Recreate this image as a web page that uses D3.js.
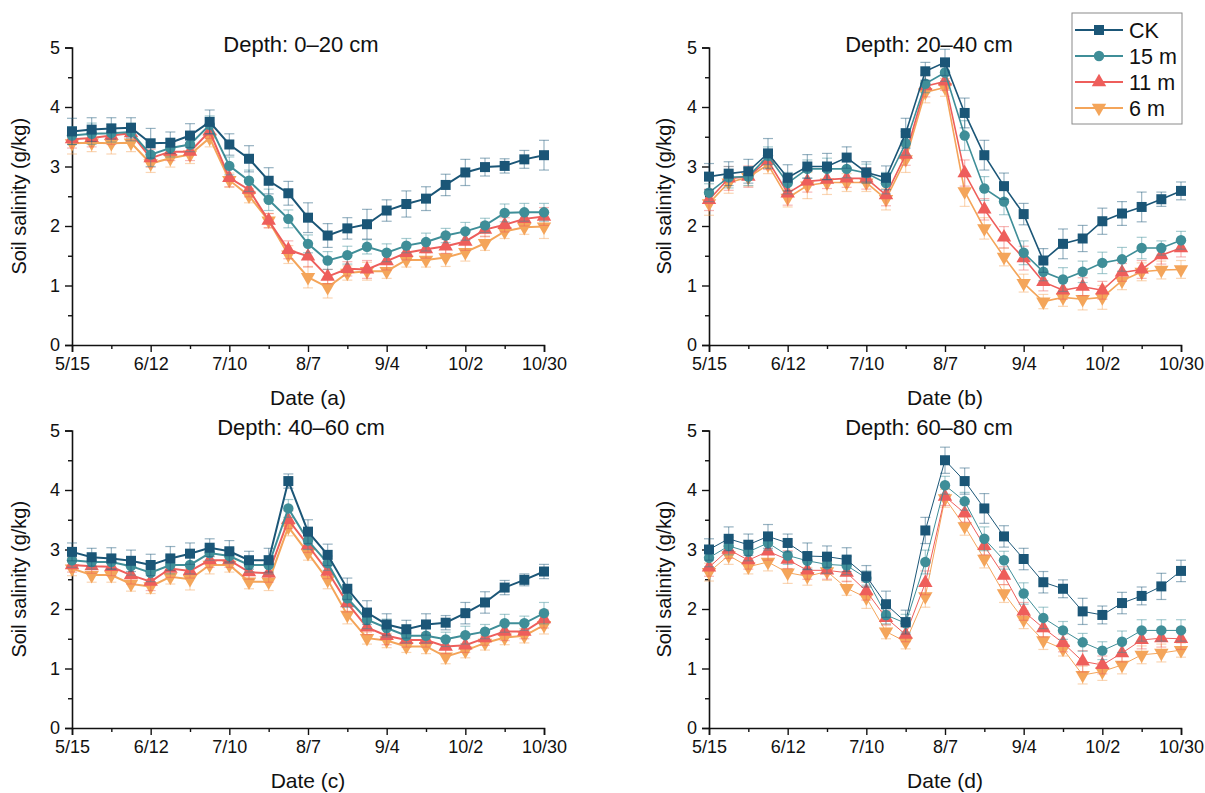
<!DOCTYPE html>
<html lang="en">
<head>
<meta charset="UTF-8">
<title>Soil salinity by depth</title>
<script src="https://d3js.org/d3.v7.min.js"></script>
<style>
  body { margin: 0; background: #fff; }
  svg { font-family: "Liberation Sans", Arial, sans-serif; }
</style>
</head>
<body>
<svg width="1205" height="793"></svg>
<script>
// sampling dates (weekly)
const dates = ['5/15','5/22','5/29','6/5','6/12','6/19','6/26','7/3','7/10','7/17','7/24','7/31',
  '8/7','8/14','8/21','8/28','9/4','9/11','9/18','9/25','10/2','10/9','10/16','10/23','10/30'];
const xTickLabels = ['5/15','6/12','7/10','8/7','9/4','10/2','10/30'];
const xMinorLabels = ['5/29','6/26','7/24','8/21','9/18','10/16'];
const yTicks = [0, 1, 2, 3, 4, 5];
const seriesNames = ['CK', '15 m', '11 m', '6 m'];
const panelTitles = ['Depth: 0\u201320 cm', 'Depth: 20\u201340 cm', 'Depth: 40\u201360 cm', 'Depth: 60\u201380 cm'];
const panelLetters = ['a', 'b', 'c', 'd'];

// Depth 0-20 cm
const a_CK  = [3.59,3.62,3.64,3.65,3.39,3.40,3.52,3.75,3.37,3.13,2.76,2.55,2.14,1.84,1.96,2.03,2.26,2.37,2.46,2.69,2.90,2.99,3.01,3.12,3.19];
const a_15  = [3.52,3.55,3.56,3.58,3.20,3.31,3.37,3.70,3.01,2.76,2.44,2.12,1.70,1.42,1.51,1.65,1.55,1.67,1.73,1.84,1.91,2.01,2.22,2.23,2.23];
const a_11  = [3.46,3.48,3.52,3.56,3.14,3.25,3.25,3.59,2.81,2.61,2.09,1.60,1.49,1.15,1.28,1.27,1.41,1.55,1.61,1.66,1.74,1.94,2.02,2.12,2.16];
const a_6   = [3.39,3.40,3.39,3.40,3.05,3.14,3.20,3.48,2.77,2.51,2.09,1.52,1.14,0.97,1.21,1.24,1.24,1.43,1.43,1.47,1.56,1.71,1.91,1.98,1.99];
const a_CKe = [0.22,0.20,0.18,0.17,0.25,0.18,0.20,0.20,0.18,0.22,0.22,0.20,0.25,0.20,0.18,0.25,0.18,0.22,0.20,0.18,0.22,0.15,0.12,0.15,0.25];
const a_15e = [0.15,0.18,0.15,0.15,0.20,0.15,0.12,0.15,0.15,0.18,0.18,0.15,0.15,0.15,0.15,0.12,0.15,0.12,0.15,0.12,0.15,0.12,0.15,0.15,0.15];
const a_11e = [0.15,0.15,0.15,0.12,0.15,0.15,0.15,0.12,0.15,0.12,0.12,0.15,0.18,0.12,0.12,0.15,0.15,0.12,0.15,0.12,0.15,0.12,0.12,0.12,0.15];
const a_6e  = [0.18,0.15,0.18,0.15,0.15,0.15,0.15,0.15,0.12,0.12,0.12,0.15,0.18,0.18,0.12,0.15,0.12,0.12,0.12,0.15,0.15,0.12,0.12,0.12,0.20];

// Depth 20-40 cm
const b_CK  = [2.83,2.88,2.92,3.22,2.81,3.00,3.00,3.15,2.90,2.81,3.56,4.60,4.75,3.90,3.19,2.67,2.20,1.42,1.70,1.79,2.08,2.21,2.32,2.45,2.59];
const b_15  = [2.56,2.82,2.83,3.18,2.72,2.96,2.96,2.96,2.89,2.72,3.39,4.39,4.58,3.52,2.63,2.41,1.55,1.23,1.10,1.23,1.38,1.44,1.63,1.63,1.76];
const b_11  = [2.44,2.80,2.83,3.10,2.55,2.75,2.78,2.80,2.80,2.52,3.20,4.35,4.43,2.89,2.28,1.81,1.46,1.06,0.92,0.98,0.92,1.22,1.27,1.51,1.63];
const b_6   = [2.38,2.73,2.82,3.03,2.47,2.68,2.73,2.73,2.73,2.45,3.12,4.25,4.33,2.58,1.96,1.48,1.04,0.73,0.80,0.77,0.80,1.08,1.23,1.26,1.27];
const b_CKe = [0.22,0.20,0.20,0.25,0.22,0.20,0.22,0.18,0.18,0.20,0.25,0.15,0.22,0.25,0.25,0.22,0.18,0.20,0.25,0.22,0.22,0.20,0.25,0.12,0.15];
const b_15e = [0.15,0.18,0.15,0.15,0.18,0.15,0.18,0.15,0.15,0.18,0.20,0.15,0.15,0.25,0.20,0.22,0.20,0.15,0.20,0.18,0.18,0.20,0.18,0.12,0.15];
const b_11e = [0.18,0.20,0.18,0.15,0.20,0.18,0.15,0.15,0.18,0.18,0.18,0.18,0.15,0.22,0.18,0.18,0.20,0.15,0.15,0.15,0.15,0.15,0.15,0.15,0.15];
const b_6e  = [0.20,0.18,0.15,0.15,0.15,0.22,0.20,0.15,0.15,0.18,0.22,0.18,0.15,0.25,0.18,0.15,0.15,0.12,0.15,0.18,0.20,0.15,0.15,0.15,0.15];

// Depth 40-60 cm
const c_CK  = [2.96,2.87,2.85,2.81,2.74,2.85,2.93,3.03,2.97,2.82,2.82,4.15,3.30,2.91,2.34,1.94,1.74,1.66,1.74,1.77,1.93,2.11,2.36,2.49,2.63];
const c_15  = [2.82,2.79,2.79,2.72,2.61,2.74,2.74,2.94,2.89,2.74,2.74,3.69,3.15,2.77,2.18,1.82,1.68,1.55,1.55,1.49,1.56,1.62,1.76,1.76,1.93];
const c_11  = [2.74,2.72,2.71,2.57,2.46,2.68,2.64,2.82,2.82,2.62,2.60,3.50,3.07,2.63,2.10,1.69,1.55,1.48,1.48,1.37,1.39,1.51,1.62,1.62,1.83];
const c_6   = [2.68,2.57,2.57,2.42,2.38,2.54,2.50,2.74,2.74,2.46,2.46,3.38,2.94,2.49,1.90,1.51,1.47,1.37,1.37,1.20,1.30,1.43,1.52,1.55,1.73];
const c_CKe = [0.15,0.15,0.18,0.18,0.18,0.20,0.18,0.15,0.18,0.15,0.20,0.12,0.20,0.18,0.18,0.20,0.18,0.15,0.18,0.12,0.18,0.18,0.12,0.10,0.12];
const c_15e = [0.12,0.12,0.12,0.15,0.15,0.15,0.15,0.12,0.12,0.12,0.15,0.15,0.15,0.12,0.15,0.15,0.15,0.12,0.12,0.12,0.15,0.12,0.15,0.12,0.18];
const c_11e = [0.12,0.12,0.15,0.15,0.15,0.15,0.12,0.12,0.12,0.12,0.15,0.15,0.12,0.12,0.15,0.12,0.15,0.12,0.12,0.12,0.12,0.12,0.15,0.12,0.15];
const c_6e  = [0.12,0.12,0.12,0.12,0.12,0.12,0.18,0.15,0.12,0.12,0.15,0.15,0.12,0.15,0.15,0.10,0.12,0.10,0.12,0.12,0.12,0.12,0.12,0.12,0.15];

// Depth 60-80 cm
const d_CK  = [3.00,3.18,3.08,3.22,3.11,2.89,2.88,2.83,2.55,2.08,1.78,3.32,4.50,4.15,3.69,3.22,2.84,2.45,2.34,1.96,1.90,2.10,2.22,2.38,2.64];
const d_15  = [2.86,3.06,2.96,3.11,2.90,2.81,2.75,2.73,2.52,1.90,1.76,2.79,4.08,3.81,3.18,2.82,2.26,1.85,1.64,1.44,1.30,1.45,1.64,1.64,1.64];
const d_11  = [2.70,3.00,2.82,2.97,2.83,2.65,2.65,2.61,2.30,1.85,1.57,2.44,3.89,3.61,3.06,2.56,1.96,1.68,1.43,1.12,1.06,1.26,1.48,1.51,1.50];
const d_6   = [2.62,2.90,2.71,2.79,2.61,2.55,2.63,2.35,2.19,1.62,1.45,2.21,3.86,3.39,2.84,2.26,1.82,1.47,1.33,0.89,0.95,1.06,1.23,1.26,1.31];
const d_CKe = [0.18,0.20,0.18,0.20,0.15,0.22,0.18,0.20,0.18,0.22,0.20,0.22,0.22,0.22,0.25,0.18,0.18,0.18,0.15,0.22,0.15,0.18,0.15,0.22,0.18];
const d_15e = [0.15,0.15,0.15,0.12,0.15,0.15,0.15,0.15,0.12,0.15,0.15,0.20,0.15,0.15,0.20,0.15,0.18,0.18,0.15,0.15,0.15,0.18,0.18,0.18,0.18];
const d_11e = [0.15,0.15,0.15,0.15,0.15,0.15,0.15,0.15,0.15,0.12,0.12,0.20,0.15,0.15,0.15,0.15,0.15,0.15,0.15,0.18,0.15,0.15,0.15,0.15,0.18];
const d_6e  = [0.15,0.15,0.12,0.15,0.18,0.15,0.15,0.12,0.18,0.12,0.12,0.18,0.15,0.15,0.15,0.15,0.15,0.15,0.12,0.15,0.15,0.15,0.15,0.15,0.12];

const colors = ['#1b5677', '#3f8e98', '#ee5e5b', '#f4a55a'];
const symbols = [d3.symbolSquare, d3.symbolCircle, d3.symbolTriangle, d3.symbolTriangle];
const symbolSizes = [100, 85, 90, 90];
const rotations = [0, 0, 0, 180];

const panels = [
  { series: [a_CK, a_15, a_11, a_6], errors: [a_CKe, a_15e, a_11e, a_6e], left: 72,  top: 47.5,  lineW: 2,   ylab: -46 },
  { series: [b_CK, b_15, b_11, b_6], errors: [b_CKe, b_15e, b_11e, b_6e], left: 709, top: 47.5,  lineW: 1.6, ylab: -38 },
  { series: [c_CK, c_15, c_11, c_6], errors: [c_CKe, c_15e, c_11e, c_6e], left: 72,  top: 430.5, lineW: 2,   ylab: -46 },
  { series: [d_CK, d_15, d_11, d_6], errors: [d_CKe, d_15e, d_11e, d_6e], left: 709, top: 430.5, lineW: 1,   ylab: -38 }
];
const plotW = 472, plotH = 297.5;

const parseDate = s => d3.timeParse('%Y/%m/%d')('2021/' + s);
const dateObjs = dates.map(parseDate);

const svg = d3.select('svg');

panels.forEach((p, pi) => {
  const g = svg.append('g').attr('transform', `translate(${p.left},${p.top})`);

  const x = d3.scaleTime()
    .domain([parseDate(xTickLabels[0]), parseDate(xTickLabels[xTickLabels.length - 1])])
    .range([0, plotW]);
  const y = d3.scaleLinear().domain([0, 5]).range([plotH, 0]);

  // axes, major + minor ticks pointing outward
  g.append('g').attr('transform', `translate(0,${plotH})`)
    .call(d3.axisBottom(x).tickValues(xTickLabels.map(parseDate)).tickFormat(d3.timeFormat('%-m/%-d')).tickSize(7).tickPadding(5));
  g.append('g').attr('transform', `translate(0,${plotH})`)
    .call(d3.axisBottom(x).tickValues(xMinorLabels.map(parseDate)).tickFormat('').tickSize(4))
    .call(a => a.select('.domain').remove());
  g.append('g')
    .call(d3.axisLeft(y).tickValues(yTicks).tickFormat(d3.format('d')).tickSize(7).tickPadding(5));
  g.append('g')
    .call(d3.axisLeft(y).tickValues([0.5, 1.5, 2.5, 3.5, 4.5]).tickFormat('').tickSize(4))
    .call(a => a.select('.domain').remove());

  g.selectAll('.domain').attr('stroke', '#111').attr('stroke-width', 1.6);
  g.selectAll('.tick line').attr('stroke', '#111').attr('stroke-width', 1.4);
  g.selectAll('.tick text').attr('font-size', 18).attr('fill', '#111')
    .attr('font-family', '"Liberation Sans", Arial, sans-serif');

  // axis titles
  g.append('text')
    .attr('x', plotW / 2).attr('y', plotH + 60)
    .attr('text-anchor', 'middle').attr('font-size', 21).attr('fill', '#111')
    .text(`Date (${panelLetters[pi]})`);
  g.append('text')
    .attr('transform', `translate(${p.ylab},${plotH / 2}) rotate(-90)`)
    .attr('text-anchor', 'middle').attr('font-size', 20).attr('fill', '#111')
    .text('Soil salinity (g/kg)');
  g.append('text')
    .attr('x', pi % 2 === 0 ? 229 : 220).attr('y', 4)
    .attr('text-anchor', 'middle').attr('font-size', 22).attr('fill', '#111')
    .text(panelTitles[pi]);

  // series (6 m first so CK ends up on top)
  for (let si = 3; si >= 0; si--) {
    const vals = p.series[si], errs = p.errors[si];
    const pts = vals.map((v, i) => ({ d: dateObjs[i], v: v, e: errs[i] }));
    const sg = g.append('g');

    const eb = sg.selectAll('.err').data(pts).enter().append('g')
      .attr('stroke', colors[si]).attr('stroke-opacity', 0.45).attr('stroke-width', 1.2);
    eb.append('line')
      .attr('x1', d => x(d.d)).attr('x2', d => x(d.d))
      .attr('y1', d => y(d.v - d.e)).attr('y2', d => y(d.v + d.e));
    eb.append('line')
      .attr('x1', d => x(d.d) - 5).attr('x2', d => x(d.d) + 5)
      .attr('y1', d => y(d.v + d.e)).attr('y2', d => y(d.v + d.e));
    eb.append('line')
      .attr('x1', d => x(d.d) - 5).attr('x2', d => x(d.d) + 5)
      .attr('y1', d => y(d.v - d.e)).attr('y2', d => y(d.v - d.e));

    sg.append('path').datum(pts)
      .attr('fill', 'none').attr('stroke', colors[si]).attr('stroke-width', p.lineW)
      .attr('d', d3.line().x(d => x(d.d)).y(d => y(d.v)));

    sg.selectAll('.mk').data(pts).enter().append('path')
      .attr('d', d3.symbol().type(symbols[si]).size(symbolSizes[si]))
      .attr('transform', d => `translate(${x(d.d)},${y(d.v)}) rotate(${rotations[si]})`)
      .attr('fill', colors[si]);
  }
});

// legend
const lg = svg.append('g').attr('transform', 'translate(1072,13)');
lg.append('rect').attr('width', 110).attr('height', 111)
  .attr('fill', '#fff').attr('stroke', '#8a8a8a').attr('stroke-width', 1);
seriesNames.forEach((n, i) => {
  const yy = 17 + i * 26;
  lg.append('line').attr('x1', 3).attr('x2', 51).attr('y1', yy).attr('y2', yy)
    .attr('stroke', colors[i]).attr('stroke-width', 2);
  lg.append('path')
    .attr('d', d3.symbol().type(symbols[i]).size(symbolSizes[i])())
    .attr('transform', `translate(27,${yy}) rotate(${rotations[i]})`)
    .attr('fill', colors[i]);
  lg.append('text').attr('x', 57).attr('y', yy + 7.5)
    .attr('font-size', 21.5).attr('fill', '#111').text(n);
});
</script>
</body>
</html>
